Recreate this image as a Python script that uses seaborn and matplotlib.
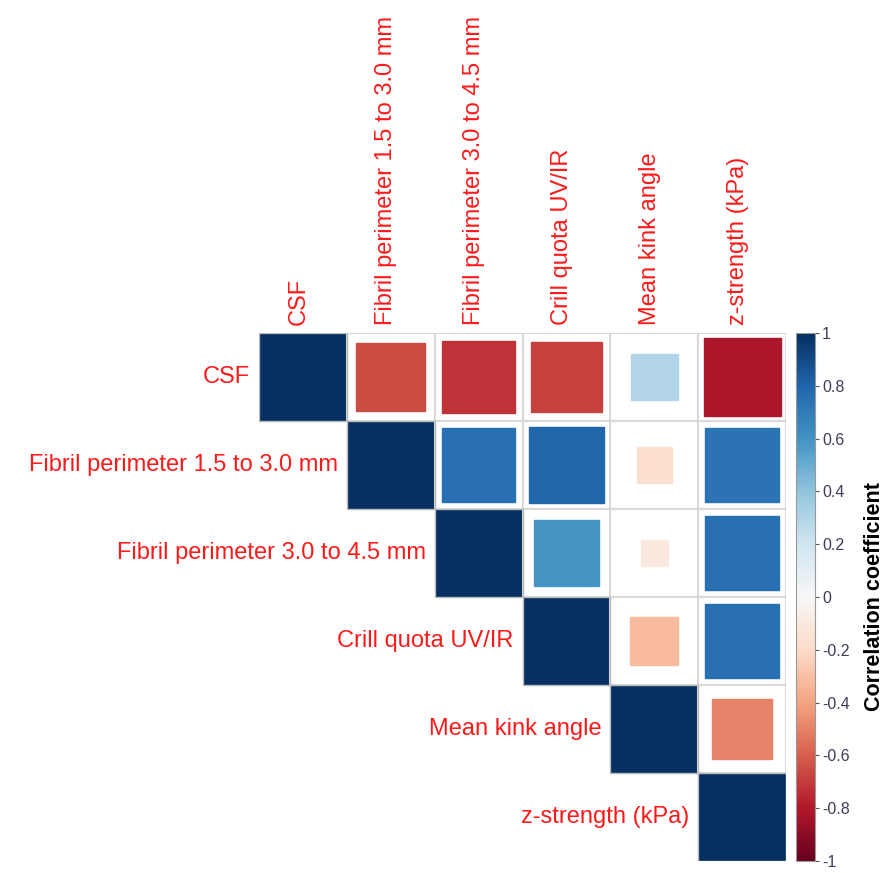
import numpy as np
import pandas as pd
import matplotlib.pyplot as plt
import seaborn as sns
from matplotlib.patches import Rectangle

# Variabelen en correlaties (bovenste driehoek, rij-gewijs)
labels = ["CSF", "Fibril perimeter 1.5 to 3.0 mm", "Fibril perimeter 3.0 to 4.5 mm",
          "Crill quota UV/IR", "Mean kink angle", "z-strength (kPa)"]
r_csf = [1.00, -0.65, -0.72, -0.68, 0.30, -0.82]
r_fib15 = [1.00, 0.75, 0.79, -0.17, 0.74]
r_fib30 = [1.00, 0.59, -0.10, 0.75]
r_crill = [1.00, -0.32, 0.75]
r_kink = [1.00, -0.50]
r_z = [1.00]

rows = [r_csf, r_fib15, r_fib30, r_crill, r_kink, r_z]
n = len(labels)
corr = np.full((n, n), np.nan)
for i, vals in enumerate(rows):
    corr[i, i:] = vals
df = pd.DataFrame(corr, index=labels, columns=labels)

sns.set_style("white")
plt.rcParams["font.family"] = ["Liberation Sans", "DejaVu Sans"]

cmap = sns.color_palette("RdBu", as_cmap=True)
norm = plt.Normalize(-1, 1)

fig = plt.figure(figsize=(8.89, 8.73), dpi=100)
ax = fig.add_axes([259 / 889, 12 / 873, 527 / 889, 528 / 873])
cax = fig.add_axes([796 / 889, 12 / 873, 19 / 889, 528 / 873])

# Diagonaal via heatmap, rest gemaskeerd
mask = ~np.eye(n, dtype=bool)
sns.heatmap(df, mask=mask, cmap=cmap, vmin=-1, vmax=1, ax=ax, cbar_ax=cax,
            linewidths=0, xticklabels=False, yticklabels=False)

for k in range(n):
    ax.add_patch(Rectangle((k, k), 1, 1, facecolor="none",
                           edgecolor="#b8b8b8", lw=1, zorder=4))

# Rasters en vierkantjes (zijde ~ sqrt(|r|))
for i in range(n):
    for j in range(i + 1, n):
        r = df.iloc[i, j]
        ax.add_patch(Rectangle((j, i), 1, 1, facecolor="white",
                               edgecolor="#d9d9d9", lw=1.5, zorder=2))
        s = np.sqrt(abs(r)) * 0.97
        ax.add_patch(Rectangle((j + 0.5 - s / 2, i + 0.5 - s / 2), s, s,
                               facecolor=cmap(norm(r)), edgecolor=cmap(norm(r)),
                               lw=1, zorder=3))

ax.set_xlim(0, n)
ax.set_ylim(n, 0)
for sp in ax.spines.values():
    sp.set_visible(False)

# Labels
for k, name in enumerate(labels):
    ax.text(k + 0.45, -0.09, name, rotation=90, ha="center", va="bottom",
            color="#ff1a1a", fontsize=17, clip_on=False)
    ax.text(k - 0.1, k + 0.5, name, ha="right", va="center",
            color="#ff1a1a", fontsize=17, clip_on=False)

# Kleurenbalk
ticks = [1, 0.8, 0.6, 0.4, 0.2, 0, -0.2, -0.4, -0.6, -0.8, -1]
cax.set_yticks(ticks)
cax.set_yticklabels([f"{t:g}" for t in ticks])
cax.tick_params(axis="y", length=3, width=0.8, color="#555555", labelsize=11.5,
                labelcolor="#3d3d5c", pad=2)
cb = ax.collections[0].colorbar
cb.outline.set_edgecolor("#999999")
cb.outline.set_linewidth(0.8)
cax.set_ylabel("Correlation coefficient", fontsize=15.5, fontweight="bold",
               color="black", labelpad=10)

fig.savefig("out.png", dpi=100)
